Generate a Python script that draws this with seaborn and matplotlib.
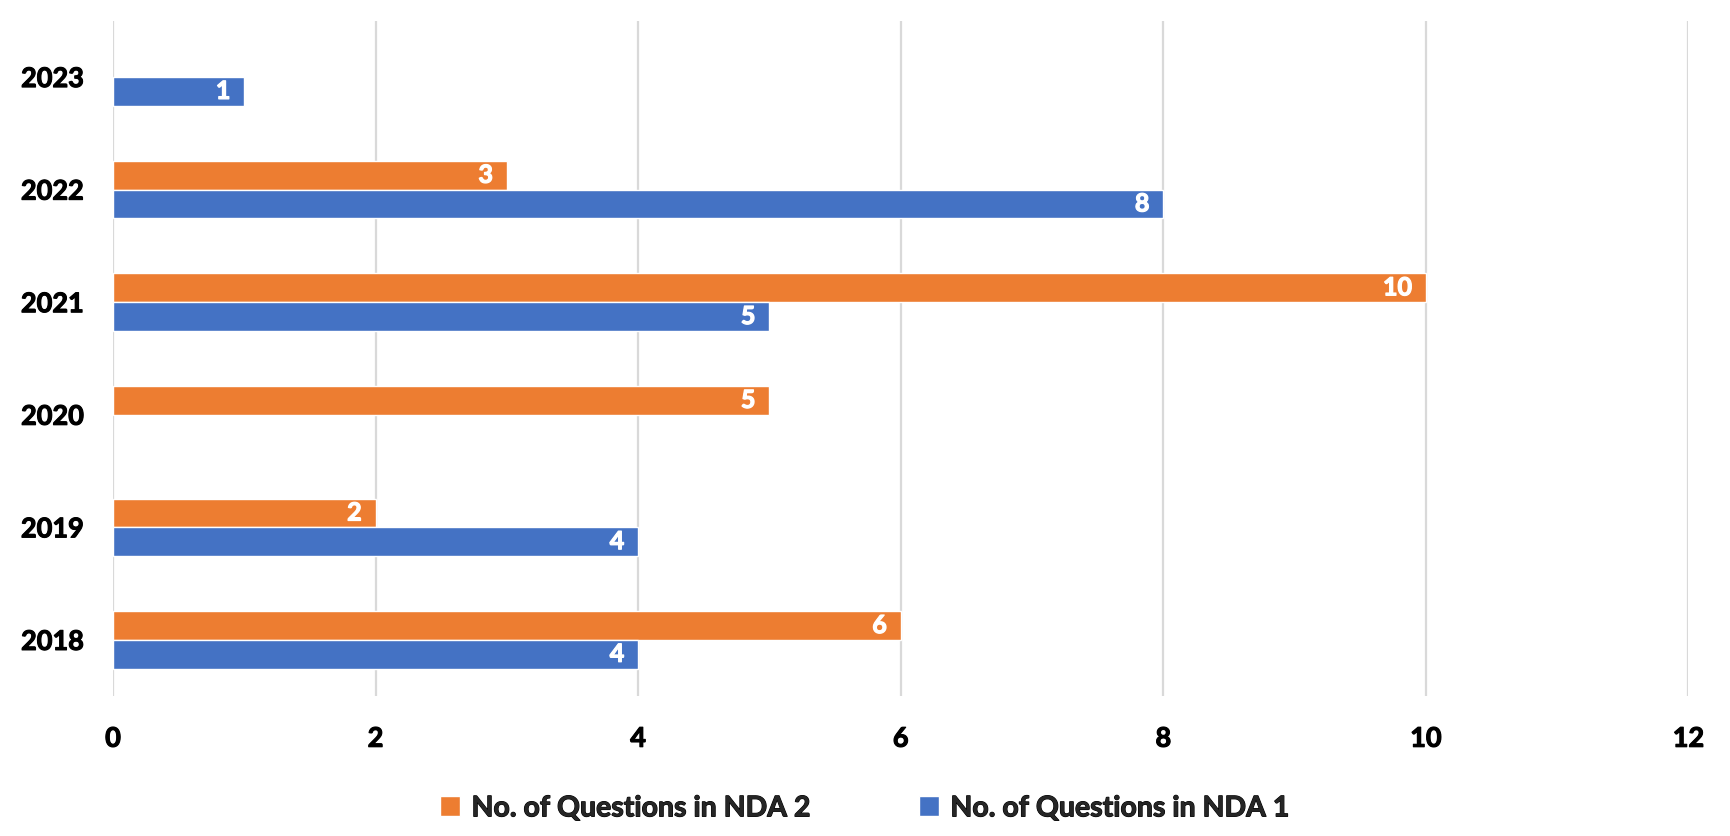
import matplotlib
matplotlib.use("Agg")
import matplotlib.pyplot as plt
import matplotlib.patheffects as pe
import seaborn as sns
import pandas as pd
import numpy as np

years = ["2023", "2022", "2021", "2020", "2019", "2018"]
nda2 = [np.nan, 3, 10, 5, 2, 6]
nda1 = [1, 8, 5, np.nan, 4, 4]
series_names = ["No. of Questions in NDA 2", "No. of Questions in NDA 1"]
colors = ["#ED7D31", "#4472C4"]
xticks = [0, 2, 4, 6, 8, 10, 12]

df = pd.DataFrame({
    "year": years * 2,
    "value": nda2 + nda1,
    "series": [series_names[0]] * len(years) + [series_names[1]] * len(years),
})

sns.set_theme(style="white")
plt.rcParams['font.family'] = ['Lato', 'DejaVu Sans']
plt.rcParams['font.weight'] = 'bold'

fig = plt.figure(figsize=(17.3, 8.37), dpi=100)
ax = fig.add_axes([0.0653, 0.167, 0.9107, 0.807])

sns.barplot(data=df, y="year", x="value", hue="series", order=years,
            hue_order=series_names, palette=colors, orient="h",
            width=0.51, ax=ax, saturation=1, legend=True)

thick_w = [pe.withStroke(linewidth=0.9, foreground="white")]
thick_k = [pe.withStroke(linewidth=0.8, foreground="black")]

for cont in ax.containers:
    labels = ["" if (np.isnan(v) or v == 0) else f"{int(v)}" for v in cont.datavalues]
    anns = ax.bar_label(cont, labels=labels, label_type="edge", padding=-10,
                        color="white", fontsize=18, fontweight="bold")
    for a in anns:
        a.set_ha("right")
        a.set_path_effects(thick_w)

ax.set_xlim(0, 12)
ax.set_ylim(5.5, -0.5)
ax.set_xticks(xticks)
ax.set_xticklabels([str(t) for t in xticks], fontsize=19.5, fontweight="bold")
ax.tick_params(axis="x", length=0, pad=22, colors="black")
ax.tick_params(axis="y", length=0, pad=21, labelsize=19.5, colors="black")
for lbl in ax.get_yticklabels() + ax.get_xticklabels():
    lbl.set_fontweight("bold")
    lbl.set_path_effects(thick_k)
ax.set_xlabel("")
ax.set_ylabel("")
ax.grid(axis="x", color="#d9d9d9", linewidth=1.6)
ax.set_axisbelow(True)
for s in ax.spines.values():
    s.set_visible(False)

handles, labs = ax.get_legend_handles_labels()
leg = ax.legend(handles, labs, loc="center", bbox_to_anchor=(0.5, 0.033),
                bbox_transform=fig.transFigure, ncol=2, frameon=False,
                handlelength=0.7, handleheight=0.7, columnspacing=3.8,
                handletextpad=0.4, prop={'weight': 'bold', 'size': 20.5})
for t in leg.get_texts():
    t.set_path_effects(thick_k)

fig.savefig("out.png", dpi=100, facecolor="white")
